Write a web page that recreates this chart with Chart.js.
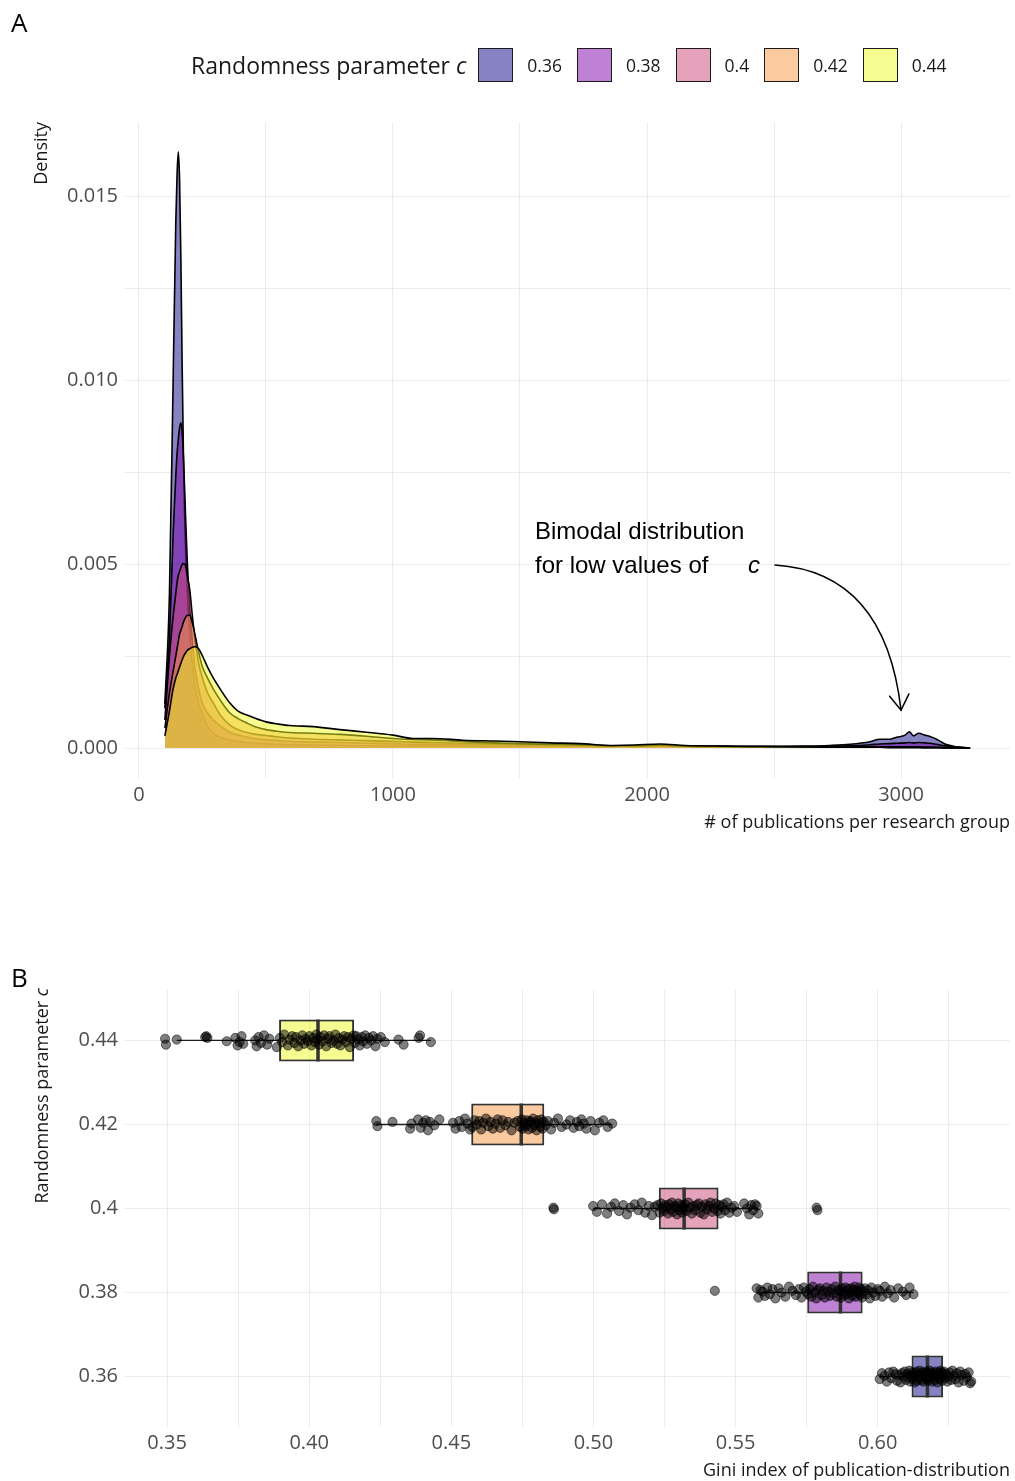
<!DOCTYPE html>
<html>
<head>
<meta charset="utf-8">
<title>Publication distribution by randomness parameter</title>
<script src="https://cdn.jsdelivr.net/npm/chart.js@4.4.1/dist/chart.umd.min.js"></script>
<style>
  html, body { margin: 0; padding: 0; background: #fff; }
  #page { position: relative; width: 1015px; height: 1481px; overflow: hidden;
          font-family: 'Open Sans', 'Noto Sans', sans-serif; color: #1a1a1a; }
  canvas { position: absolute; left: 0; }
  .tag { position: absolute; left: 11px; font-size: 26px; line-height: 1; color: #000; }
  .atitle { position: absolute; font-size: 18px; line-height: 1; white-space: nowrap; color: #1a1a1a; }
  .ytitle { transform-origin: 0 0; transform: rotate(-90deg) translate(-100%, -50%); }
  #legend { position: absolute; left: 191px; top: 47px; height: 36px; display: flex; align-items: center; }
  #legend .ltitle { font-size: 23px; margin-right: 12px; color: #1a1a1a; }
  #legend .key { display: inline-block; width: 33px; height: 32px; border: 1.5px solid #1a1a1a; margin-right: 14px; }
  #legend .klabel { font-size: 17.5px; margin-right: 15px; color: #1a1a1a; }
</style>
</head>
<body>
<div id="page">
  <canvas id="density" width="1015" height="840" style="top:0"></canvas>
  <canvas id="gini" width="1015" height="521" style="top:960px"></canvas>

  <div class="tag" style="top:9px">A</div>
  <div id="legend"><span class="ltitle">Randomness parameter <i>c</i></span></div>
  <div class="atitle ytitle" style="left:40px; top:122px">Density</div>
  <div class="atitle" style="right:5px; top:812px"># of publications per research group</div>

  <div class="tag" style="top:964px">B</div>
  <div class="atitle ytitle" style="left:41px; top:988px">Randomness parameter <i>c</i></div>
  <div class="atitle" style="right:5px; top:1460px">Gini index of publication-distribution</div>
</div>

<script>
// ---------- shared ----------
const cLevels = ['0.36', '0.38', '0.4', '0.42', '0.44'];
const plasma  = ['#0D0887', '#7E03A8', '#CC4778', '#F89540', '#F0F921'];

// ---------- panel A: density of publications per research group ----------
const pubs = [102, 120, 135, 145, 150, 155, 160, 165, 170, 175, 180, 185, 190, 200, 210, 220, 235, 250, 270, 293,
              320, 358, 390, 424, 460, 500, 550, 594, 686, 791, 896, 1000, 1079, 1157, 1276, 1400, 1500, 1620, 1736, 1866,
              1950, 2051, 2150, 2300, 2450, 2600, 2720, 2800, 2878, 2917, 2957, 2983, 3016, 3033, 3049, 3069, 3094, 3114, 3140, 3173,
              3205, 3240, 3272];

const dens036 = [0.0012, 0.0042, 0.0102, 0.0143, 0.0156, 0.0162, 0.0154, 0.0133, 0.0104, 0.0080, 0.0063, 0.0052, 0.0043, 0.0031, 0.0023, 0.0017, 0.0012, 0.0009, 0.0006, 0.0004,
                 0.0003, 0.00022, 0.00018, 0.00015, 0.00013, 0.00012, 0.0001, 0.00009, 0.00008, 0.00007, 0.00006, 0.00006, 0.00005, 0.00005, 0.00005, 0.00004, 0.00004, 0.00004, 0.00004, 0.00004,
                 0.00004, 0.00005, 0.00004, 0.00004, 0.00004, 0.00005, 0.00007, 0.0001, 0.00017, 0.00024, 0.00024, 0.00029, 0.00035, 0.00044, 0.00033, 0.0004, 0.00035, 0.00031, 0.00024, 0.00011,
                 0.00005, 0.00002, 0];
const dens038 = [0.00108, 0.0030, 0.0059, 0.0074, 0.0080, 0.0084, 0.0087, 0.00883, 0.0086, 0.0079, 0.0070, 0.0060, 0.0051, 0.0038, 0.0029, 0.0022, 0.0016, 0.0012, 0.00095, 0.00076,
                 0.0006, 0.00043, 0.00035, 0.0003, 0.00025, 0.00022, 0.0002, 0.00018, 0.00016, 0.00015, 0.00013, 0.00012, 0.0001, 0.0001, 0.00009, 0.00008, 0.00007, 0.00006, 0.00006, 0.00005,
                 0.00005, 0.00006, 0.00005, 0.00004, 0.00004, 0.00004, 0.00005, 0.00006, 0.00009, 0.00011, 0.00012, 0.00013, 0.00014, 0.00015, 0.00014, 0.00015, 0.00014, 0.00013, 0.0001, 0.00006,
                 0.00003, 0.00001, 0];
const dens040 = [0.00076, 0.0025, 0.0036, 0.0042, 0.0045, 0.0047, 0.0048, 0.0049, 0.00498, 0.00501, 0.0050, 0.0049, 0.0047, 0.0043, 0.0036, 0.0030, 0.0023, 0.0019, 0.0015, 0.00122,
                 0.0009, 0.00062, 0.0005, 0.00042, 0.00037, 0.00034, 0.0003, 0.00027, 0.00024, 0.00022, 0.0002, 0.00018, 0.00016, 0.00015, 0.00013, 0.00011, 0.0001, 0.00009, 0.00008, 0.00006,
                 0.00006, 0.00007, 0.00005, 0.00004, 0.00004, 0.00003, 0.00003, 0.00003, 0.00003, 0.00003, 0.00003, 0.00003, 0.00003, 0.00003, 0.00003, 0.00003, 0.00002, 0.00002, 0.00002, 0.00001,
                 0.00001, 0, 0];
const dens042 = [0.00054, 0.0015, 0.0021, 0.0025, 0.0027, 0.0029, 0.0031, 0.0032, 0.0033, 0.00342, 0.0035, 0.00357, 0.0036, 0.00361, 0.0034, 0.0031, 0.0026, 0.0022, 0.0019, 0.0016,
                 0.0013, 0.00095, 0.0008, 0.00068, 0.00057, 0.0005, 0.00045, 0.00042, 0.0004, 0.00037, 0.00032, 0.00026, 0.00023, 0.00022, 0.00018, 0.00014, 0.00012, 0.0001, 0.00009, 0.00006,
                 0.00006, 0.00008, 0.00005, 0.00004, 0.00003, 0.00003, 0.00002, 0.00002, 0.00002, 0.00002, 0.00002, 0.00002, 0.00002, 0.00002, 0.00002, 0.00002, 0.00001, 0.00001, 0.00001, 0.00001,
                 0, 0, 0];
const dens044 = [0.00033, 0.0010, 0.00163, 0.0019, 0.0020, 0.0021, 0.0022, 0.0023, 0.0024, 0.00248, 0.00255, 0.0026, 0.00265, 0.0027, 0.00274, 0.00275, 0.0027, 0.0025, 0.0022, 0.0019,
                 0.0016, 0.00122, 0.001, 0.0009, 0.0008, 0.00071, 0.00065, 0.00061, 0.00058, 0.0005, 0.00043, 0.00035, 0.00026, 0.00026, 0.00021, 0.00019, 0.00017, 0.00014, 0.00012, 0.00007,
                 0.00008, 0.00011, 0.00007, 0.00005, 0.00004, 0.00003, 0.00002, 0.00002, 0.00002, 0.00002, 0.00001, 0.00001, 0.00001, 0.00001, 0.00001, 0.00001, 0.00001, 0.00001, 0.00001, 0,
                 0, 0, 0];

// grid positions; only the major ones carry a label
const densXTicks = [0, 500, 1000, 1500, 2000, 2500, 3000];
const densXMajor = 1000;
const densYTicks = [0, 0.0025, 0.005, 0.0075, 0.01, 0.0125, 0.015];
const densYMajor = 0.005;

// annotation text and arrow, in data units
const noteLines = ['Bimodal distribution', 'for low values of'];
const noteLeft = 1559;
const noteBaselines = [0.00569, 0.00476];
const noteSymbolX = 2398;
const arrowFrom = [2504, 0.00497];
const arrowBend = [2937, 0.00478];
const arrowTo   = [3000, 0.00103];

// ---------- panel B: Gini index per run ----------
const q1     = [0.6119, 0.5752, 0.5230, 0.4570, 0.3894];
const median = [0.6175, 0.5869, 0.5319, 0.4746, 0.4031];
const q3     = [0.6230, 0.5947, 0.5440, 0.4827, 0.4158];
const whLow  = [0.6007, 0.5574, 0.4999, 0.4236, 0.3534];
const whHigh = [0.6329, 0.6126, 0.5580, 0.5066, 0.4428];

const gini036 = [0.6007, 0.6015, 0.6024, 0.6032, 0.6040, 0.6048, 0.6055, 0.6062, 0.6068, 0.6074, 0.6080, 0.6085, 0.6090, 0.6095, 0.6099, 0.6103, 0.6107, 0.6111, 0.6114, 0.6117,
                 0.6121, 0.6124, 0.6127, 0.6130, 0.6133, 0.6136, 0.6139, 0.6142, 0.6145, 0.6148, 0.6151, 0.6154, 0.6157, 0.6160, 0.6163, 0.6166, 0.6168, 0.6170, 0.6172, 0.6174,
                 0.6177, 0.6180, 0.6183, 0.6186, 0.6189, 0.6192, 0.6195, 0.6198, 0.6201, 0.6204, 0.6207, 0.6210, 0.6213, 0.6216, 0.6219, 0.6221, 0.6223, 0.6225, 0.6227, 0.6229,
                 0.6233, 0.6237, 0.6241, 0.6245, 0.6249, 0.6253, 0.6258, 0.6263, 0.6268, 0.6273, 0.6278, 0.6284, 0.6290, 0.6296, 0.6302, 0.6308, 0.6314, 0.6320, 0.6325, 0.6329];
const gini038 = [0.5427, 0.5574, 0.5580, 0.5588, 0.5595, 0.5603, 0.5612, 0.5620, 0.5630, 0.5640, 0.5652, 0.5662, 0.5675, 0.5688, 0.5700, 0.5712, 0.5722, 0.5732, 0.5740, 0.5748,
                 0.5755, 0.5760, 0.5766, 0.5772, 0.5778, 0.5784, 0.5790, 0.5796, 0.5802, 0.5808, 0.5814, 0.5820, 0.5826, 0.5832, 0.5838, 0.5844, 0.5850, 0.5856, 0.5861, 0.5866,
                 0.5871, 0.5875, 0.5879, 0.5883, 0.5887, 0.5891, 0.5895, 0.5899, 0.5903, 0.5907, 0.5911, 0.5915, 0.5919, 0.5923, 0.5927, 0.5931, 0.5935, 0.5939, 0.5942, 0.5945,
                 0.5950, 0.5955, 0.5960, 0.5966, 0.5972, 0.5978, 0.5985, 0.5992, 0.6000, 0.6008, 0.6016, 0.6025, 0.6035, 0.6045, 0.6058, 0.6072, 0.6088, 0.6100, 0.6112, 0.6126];
const gini040 = [0.4859, 0.4861, 0.4999, 0.5012, 0.5030, 0.5048, 0.5062, 0.5075, 0.5090, 0.5105, 0.5118, 0.5130, 0.5145, 0.5158, 0.5170, 0.5182, 0.5195, 0.5206, 0.5215, 0.5225,
                 0.5233, 0.5238, 0.5243, 0.5248, 0.5252, 0.5257, 0.5262, 0.5266, 0.5271, 0.5276, 0.5280, 0.5285, 0.5290, 0.5294, 0.5299, 0.5303, 0.5308, 0.5312, 0.5315, 0.5318,
                 0.5322, 0.5328, 0.5334, 0.5340, 0.5346, 0.5352, 0.5358, 0.5364, 0.5370, 0.5376, 0.5382, 0.5388, 0.5394, 0.5400, 0.5406, 0.5412, 0.5418, 0.5424, 0.5430, 0.5437,
                 0.5442, 0.5447, 0.5452, 0.5458, 0.5463, 0.5470, 0.5478, 0.5486, 0.5495, 0.5505, 0.5530, 0.5540, 0.5548, 0.5555, 0.5562, 0.5568, 0.5574, 0.5580, 0.5785, 0.5788];
const gini042 = [0.4236, 0.4240, 0.4293, 0.4355, 0.4360, 0.4383, 0.4392, 0.4401, 0.4410, 0.4418, 0.4425, 0.4440, 0.4458, 0.4506, 0.4515, 0.4528, 0.4536, 0.4548, 0.4556, 0.4566,
                 0.4574, 0.4582, 0.4590, 0.4598, 0.4605, 0.4613, 0.4622, 0.4630, 0.4638, 0.4646, 0.4655, 0.4663, 0.4672, 0.4680, 0.4690, 0.4700, 0.4712, 0.4722, 0.4733, 0.4742,
                 0.4748, 0.4752, 0.4756, 0.4760, 0.4764, 0.4768, 0.4772, 0.4776, 0.4780, 0.4784, 0.4788, 0.4792, 0.4796, 0.4800, 0.4804, 0.4809, 0.4813, 0.4817, 0.4821, 0.4825,
                 0.4832, 0.4840, 0.4851, 0.4862, 0.4875, 0.4888, 0.4905, 0.4918, 0.4930, 0.4942, 0.4950, 0.4958, 0.4966, 0.4975, 0.4990, 0.5005, 0.5020, 0.5035, 0.5050, 0.5066];
const gini044 = [0.3493, 0.3496, 0.3534, 0.3634, 0.3638, 0.3642, 0.3710, 0.3740, 0.3748, 0.3755, 0.3762, 0.3768, 0.3810, 0.3815, 0.3822, 0.3830, 0.3841, 0.3852, 0.3860, 0.3886,
                 0.3897, 0.3905, 0.3912, 0.3925, 0.3931, 0.3940, 0.3948, 0.3953, 0.3961, 0.3970, 0.3976, 0.3982, 0.3988, 0.3995, 0.4001, 0.4008, 0.4014, 0.4020, 0.4025, 0.4029,
                 0.4034, 0.4040, 0.4047, 0.4052, 0.4060, 0.4066, 0.4071, 0.4079, 0.4085, 0.4092, 0.4098, 0.4104, 0.4110, 0.4117, 0.4123, 0.4130, 0.4137, 0.4143, 0.4150, 0.4156,
                 0.4161, 0.4166, 0.4172, 0.4178, 0.4185, 0.4190, 0.4197, 0.4203, 0.4210, 0.4218, 0.4225, 0.4233, 0.4240, 0.4252, 0.4266, 0.4314, 0.4332, 0.4385, 0.4390, 0.4428];

// vertical jitter of each run, in category units
const jit036 = [-0.03, 0.04, 0.01, -0.06, 0.05, -0.02, 0.06, 0.03, -0.05, 0.02, -0.07, 0.04, 0.00, 0.06, -0.04, 0.03, -0.01, 0.07, -0.06, 0.02,
                0.05, -0.03, 0.01, -0.07, 0.04, 0.06, -0.05, 0.02, -0.02, 0.07, 0.03, -0.04, 0.05, -0.06, 0.01, 0.04, -0.01, 0.06, -0.03, 0.00,
                -0.05, 0.03, 0.07, -0.02, 0.05, -0.06, 0.02, 0.04, -0.04, 0.06, 0.01, -0.07, 0.03, 0.05, -0.03, 0.07, -0.01, 0.02, -0.05, 0.04,
                0.06, -0.02, 0.03, -0.06, 0.00, 0.05, -0.04, 0.07, 0.01, -0.03, 0.04, -0.07, 0.06, 0.02, -0.05, 0.03, -0.01, 0.05, -0.08, -0.06];
const jit038 = [0.02, 0.05, -0.06, 0.03, 0.01, -0.04, 0.06, -0.02, 0.04, -0.07, 0.05, 0.00, -0.05, 0.07, 0.02, -0.03, 0.04, -0.06, 0.06, 0.01,
                -0.02, 0.04, -0.05, 0.07, 0.00, -0.07, 0.03, 0.05, -0.03, 0.02, -0.06, 0.06, 0.01, -0.04, 0.04, -0.01, 0.07, -0.05, 0.03, 0.02,
                -0.06, 0.05, 0.01, -0.03, 0.06, -0.02, 0.04, -0.07, 0.00, 0.05, -0.04, 0.03, 0.07, -0.05, 0.02, -0.01, 0.06, -0.03, 0.04, -0.06,
                0.01, 0.05, -0.02, 0.03, -0.07, 0.06, 0.00, -0.04, 0.04, 0.02, -0.05, 0.07, -0.01, 0.03, -0.06, 0.05, 0.01, -0.03, 0.06, -0.02];
const jit040 = [0.01, -0.01, 0.03, -0.04, 0.05, -0.06, 0.02, 0.06, -0.03, 0.04, -0.07, 0.01, 0.05, -0.02, 0.07, -0.05, 0.03, -0.08, 0.02, 0.04,
                -0.05, 0.06, 0.00, -0.03, 0.04, 0.02, -0.06, 0.05, -0.01, 0.07, -0.04, 0.03, 0.01, -0.07, 0.06, -0.02, 0.04, -0.05, 0.02, 0.00,
                0.05, -0.03, 0.07, 0.01, -0.06, 0.03, -0.02, 0.04, 0.06, -0.05, 0.02, -0.07, 0.05, -0.01, 0.03, 0.07, -0.04, 0.00, 0.06, -0.03,
                0.04, -0.06, 0.02, 0.05, -0.02, 0.07, -0.05, 0.01, 0.03, -0.04, 0.06, 0.00, -0.07, 0.04, -0.02, 0.05, 0.03, -0.06, 0.01, -0.02];
const jit042 = [0.04, -0.02, 0.03, -0.05, 0.01, 0.06, -0.04, 0.02, 0.05, -0.07, 0.03, -0.01, 0.06, 0.02, -0.05, 0.04, -0.03, 0.07, 0.01, -0.06,
                -0.03, 0.05, 0.00, 0.04, -0.06, 0.02, 0.07, -0.02, 0.03, -0.05, 0.01, 0.06, -0.04, 0.05, -0.01, 0.03, -0.07, 0.02, 0.04, -0.03,
                0.06, -0.05, 0.02, -0.02, 0.05, 0.00, -0.06, 0.04, 0.03, -0.04, 0.07, -0.01, 0.02, -0.07, 0.05, 0.01, -0.03, 0.06, -0.05, 0.03,
                -0.01, 0.04, -0.06, 0.02, 0.07, -0.03, 0.00, 0.05, -0.04, 0.03, -0.02, 0.06, 0.01, -0.05, 0.04, -0.07, 0.02, 0.05, -0.03, 0.01];
const jit044 = [0.02, -0.05, 0.01, 0.04, 0.05, 0.03, -0.01, 0.03, -0.06, -0.02, 0.05, -0.04, 0.00, -0.07, 0.04, -0.03, 0.06, -0.05, 0.02, -0.08,
                0.03, -0.02, 0.07, -0.06, 0.01, 0.05, -0.03, 0.04, -0.07, 0.00, 0.06, -0.04, 0.02, -0.01, 0.05, -0.06, 0.03, -0.02, 0.07, 0.01,
                -0.05, 0.04, -0.01, 0.06, -0.07, 0.02, 0.05, -0.03, 0.00, 0.07, -0.04, 0.03, -0.06, 0.01, 0.05, -0.02, 0.04, -0.08, 0.02, 0.06,
                -0.03, 0.05, 0.01, -0.06, 0.04, -0.01, 0.06, -0.04, 0.03, 0.00, 0.05, -0.07, 0.02, 0.04, -0.02, 0.01, -0.05, 0.03, 0.06, -0.02];

const giniXTicks = [0.35, 0.375, 0.40, 0.425, 0.45, 0.475, 0.50, 0.525, 0.55, 0.575, 0.60, 0.625];
const giniXMajor = 0.05;
const giniYTicks = [0, 1, 2, 3, 4];      // positions of cLevels

// ---------- helpers ----------
function fade(hex, a) {
  const n = parseInt(hex.slice(1), 16);
  return `rgba(${(n >> 16) & 255}, ${(n >> 8) & 255}, ${n & 255}, ${a})`;
}
function isMultiple(v, step) {
  const r = v / step;
  return Math.abs(r - Math.round(r)) < 1e-6;
}
const fixedTicks = (values) => (scale) => { scale.ticks = values.map((value) => ({ value })); };

Chart.defaults.font.family = "'Open Sans', 'Noto Sans', sans-serif";
Chart.defaults.color = '#4D4D4D';

// legend keys
const legendEl = document.getElementById('legend');
cLevels.forEach((c, i) => {
  const key = document.createElement('span');
  key.className = 'key';
  key.style.background = fade(plasma[i], 0.5);
  const lab = document.createElement('span');
  lab.className = 'klabel';
  lab.textContent = c;
  legendEl.append(key, lab);
});

const gridStyle = { color: '#EBEBEB', lineWidth: 1, drawTicks: false, offset: false };
const tickFont = { size: 20 };

// ---------- panel A chart ----------
const bimodalNote = {
  id: 'bimodalNote',
  afterDatasetsDraw(chart) {
    const { ctx } = chart;
    const sx = chart.scales.x, sy = chart.scales.y;
    const px = (p) => ({ x: sx.getPixelForValue(p[0]), y: sy.getPixelForValue(p[1]) });
    ctx.save();
    ctx.fillStyle = '#000';
    ctx.textAlign = 'left';
    ctx.textBaseline = 'alphabetic';
    ctx.font = "24px 'Liberation Sans', Arial, sans-serif";
    noteLines.forEach((t, i) => ctx.fillText(t, sx.getPixelForValue(noteLeft), sy.getPixelForValue(noteBaselines[i])));
    ctx.font = "italic 24px 'Liberation Sans', Arial, sans-serif";
    ctx.fillText('c', sx.getPixelForValue(noteSymbolX), sy.getPixelForValue(noteBaselines[1]));

    const a = px(arrowFrom), b = px(arrowBend), c = px(arrowTo);
    ctx.strokeStyle = '#000';
    ctx.lineWidth = 1.5;
    ctx.lineCap = 'round';
    ctx.beginPath();
    ctx.moveTo(a.x, a.y);
    ctx.quadraticCurveTo(b.x, b.y, c.x, c.y);
    ctx.stroke();
    const ang = Math.atan2(c.y - b.y, c.x - b.x);
    const len = 18, spread = Math.PI / 5.5;
    ctx.beginPath();
    ctx.moveTo(c.x - len * Math.cos(ang - spread), c.y - len * Math.sin(ang - spread));
    ctx.lineTo(c.x, c.y);
    ctx.lineTo(c.x - len * Math.cos(ang + spread), c.y - len * Math.sin(ang + spread));
    ctx.stroke();
    ctx.restore();
  }
};

const densities = [dens036, dens038, dens040, dens042, dens044];

new Chart(document.getElementById('density'), {
  type: 'line',
  data: {
    datasets: densities.map((d, i) => ({
      label: cLevels[i],
      data: pubs.map((x, j) => ({ x, y: d[j] })),
      order: densities.length - i,       // lowest c painted first, highest c on top
      fill: 'origin',
      backgroundColor: fade(plasma[i], 0.5),
      borderColor: '#000',
      borderWidth: 1.6,
      pointRadius: 0,
      cubicInterpolationMode: 'monotone'
    }))
  },
  options: {
    responsive: false,
    animation: false,
    events: [],
    layout: { padding: { top: 122, right: 5, left: 0, bottom: 0 } },
    plugins: { legend: { display: false }, tooltip: { enabled: false } },
    scales: {
      x: {
        type: 'linear', min: -55, max: 3429, offset: false,
        border: { display: false },
        grid: gridStyle,
        afterBuildTicks: fixedTicks(densXTicks),
        ticks: { autoSkip: false, maxRotation: 0, padding: 5, font: tickFont, color: '#4D4D4D',
                 callback: (v) => isMultiple(v, densXMajor) ? String(v) : '' },
        afterFit: (s) => { s.height = 62; }
      },
      y: {
        type: 'linear', min: -0.000815, max: 0.017011, offset: false,
        border: { display: false },
        grid: gridStyle,
        afterBuildTicks: fixedTicks(densYTicks),
        ticks: { autoSkip: false, padding: 7, font: tickFont, color: '#4D4D4D',
                 callback: (v) => isMultiple(v, densYMajor) ? v.toFixed(3) : '' },
        afterFit: (s) => { s.width = 125; }
      }
    }
  },
  plugins: [bimodalNote]
});

// ---------- panel B chart ----------
const giniRuns = [gini036, gini038, gini040, gini042, gini044];
const jitters  = [jit036, jit038, jit040, jit042, jit044];

const boxes = {
  type: 'bar',
  label: 'IQR',
  order: 4,
  data: cLevels.map((c, i) => ({ x: [q1[i], q3[i]], y: giniYTicks[i] })),
  backgroundColor: plasma.map((h) => fade(h, 0.5)),
  borderColor: '#333333',
  borderWidth: 2,
  borderSkipped: false,
  barPercentage: 0.5,
  categoryPercentage: 1
};

const lineBase = { type: 'line', pointRadius: 0, fill: false, tension: 0, borderColor: '#1a1a1a', borderWidth: 1.4 };

const whiskers = [];
cLevels.forEach((c, i) => {
  const row = giniYTicks[i];
  whiskers.push({ ...lineBase, order: 3, data: [{ x: whLow[i], y: row }, { x: q1[i], y: row }] });
  whiskers.push({ ...lineBase, order: 3, data: [{ x: q3[i], y: row }, { x: whHigh[i], y: row }] });
});

const medians = cLevels.map((c, i) => ({
  ...lineBase, order: 2, borderColor: '#333333', borderWidth: 3.5,
  data: [{ x: median[i], y: giniYTicks[i] - 0.25 }, { x: median[i], y: giniYTicks[i] + 0.25 }]
}));

const runs = giniRuns.map((g, i) => ({
  type: 'scatter',
  order: 1,
  data: g.map((v, j) => ({ x: v, y: giniYTicks[i] + jitters[i][j] })),
  pointRadius: 4.6,
  pointBackgroundColor: 'rgba(0,0,0,0.5)',
  pointBorderColor: 'rgba(0,0,0,0.65)',
  pointBorderWidth: 0.8
}));

new Chart(document.getElementById('gini'), {
  type: 'bar',
  data: { datasets: [boxes, ...whiskers, ...medians, ...runs] },
  options: {
    indexAxis: 'y',
    responsive: false,
    animation: false,
    events: [],
    layout: { padding: { top: 30, right: 5, left: 0, bottom: 0 } },
    plugins: { legend: { display: false }, tooltip: { enabled: false } },
    scales: {
      x: {
        type: 'linear', min: 0.3352, max: 0.6464, offset: false,
        border: { display: false },
        grid: gridStyle,
        afterBuildTicks: fixedTicks(giniXTicks),
        ticks: { autoSkip: false, maxRotation: 0, padding: 4, font: tickFont, color: '#4D4D4D',
                 callback: (v) => isMultiple(v, giniXMajor) ? v.toFixed(2) : '' },
        afterFit: (s) => { s.height = 54; }
      },
      y: {
        type: 'linear', min: -0.6, max: 4.6, offset: false,
        border: { display: false },
        grid: gridStyle,
        afterBuildTicks: fixedTicks(giniYTicks),
        ticks: { autoSkip: false, padding: 7, font: tickFont, color: '#4D4D4D',
                 callback: (v) => cLevels[giniYTicks.indexOf(v)] ?? '' },
        afterFit: (s) => { s.width = 125; }
      }
    }
  }
});
</script>
</body>
</html>
